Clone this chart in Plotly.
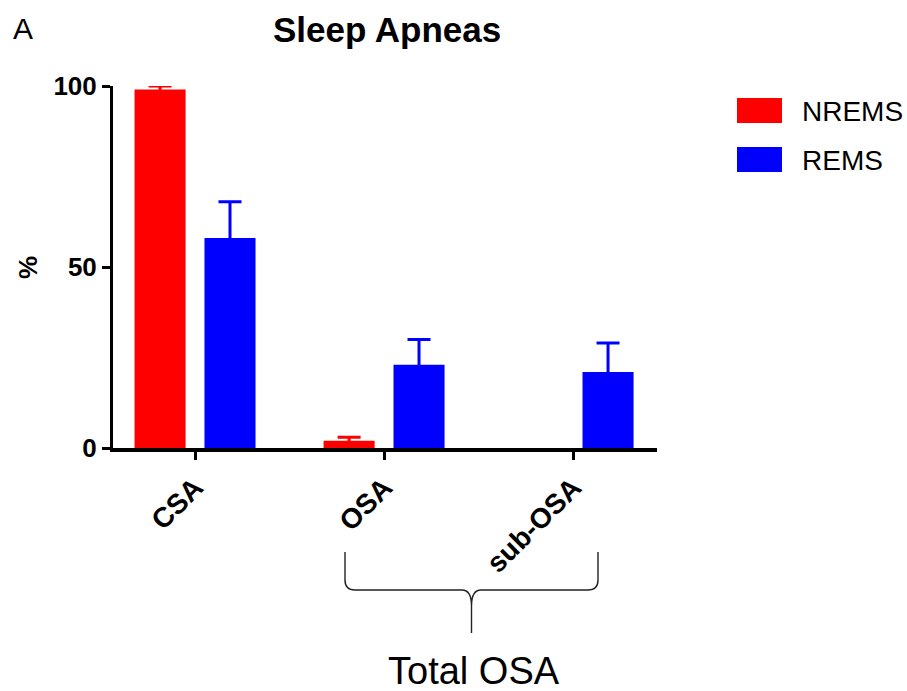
import plotly.graph_objects as go

# Sleep apnea categories and group means (%), with SEM
categories = ["CSA", "OSA", "sub-OSA"]
nrems_values = [99, 2, 0]
nrems_errors = [1, 1]  # no error bar for sub-OSA in NREMS
rems_values = [58, 23, 21]
rems_errors = [10, 7, 8]
y_ticks = [0, 50, 100]

RED = "#ff0000"
BLUE = "#0000ff"
FONT = "Arial, Liberation Sans, sans-serif"

W, H = 907, 691
L, R, T, B = 113, 657, 86, 448  # plot area in pixels


def px(xp):
    return (xp - L) / (R - L)


def py(yp):
    return (B - yp) / (B - T)


def bar_trace(name, values, errors, color):
    # the lower half of each error bar sits inside its own bar, same colour
    return go.Bar(
        name=name, x=categories, y=values,
        marker=dict(color=color, line=dict(width=0)),
        error_y=dict(type="data", symmetric=True, array=errors,
                     color=color, thickness=3, width=11.5),
        cliponaxis=False, showlegend=False,
    )


fig = go.Figure()
fig.add_trace(bar_trace("NREMS", nrems_values, nrems_errors, RED))
fig.add_trace(bar_trace("REMS", rems_values, rems_errors, BLUE))

annotations = [
    dict(text="A", x=px(11), y=py(28), xanchor="left", yanchor="middle",
         font=dict(family=FONT, size=30, color="black")),
    dict(text="<b>Sleep Apneas</b>", x=px(387), y=py(29), xanchor="center",
         yanchor="middle", font=dict(family=FONT, size=35, color="black")),
    dict(text="<b>%</b>", x=px(28), y=py(268), xanchor="center", yanchor="middle",
         textangle=-90, font=dict(family=FONT, size=26, color="black")),
    dict(text="Total OSA", x=px(474), y=py(671), xanchor="center", yanchor="middle",
         font=dict(family=FONT, size=38, color="black")),
    dict(text="NREMS", x=px(800), y=py(111), xanchor="left", yanchor="middle",
         font=dict(family=FONT, size=28, color="black")),
    dict(text="REMS", x=px(800), y=py(160), xanchor="left", yanchor="middle",
         font=dict(family=FONT, size=28, color="black")),
]
for a in annotations:
    a.update(xref="paper", yref="paper", showarrow=False)


def pt(xp, yp):
    return f"{px(xp):.5f},{py(yp):.5f}"


# curly brace grouping OSA and sub-OSA
brace = (
    f"M {pt(345, 552)} L {pt(345, 580)} Q {pt(345, 590)} {pt(355, 590)} "
    f"L {pt(462, 590)} Q {pt(471.5, 590)} {pt(471.5, 606)} L {pt(471.5, 633)} "
    f"M {pt(471.5, 606)} Q {pt(471.5, 590)} {pt(481, 590)} "
    f"L {pt(588, 590)} Q {pt(598, 590)} {pt(598, 580)} L {pt(598, 552)}"
)
shapes = [
    dict(type="path", path=brace, xref="paper", yref="paper",
         line=dict(color="#222222", width=1.4)),
    dict(type="rect", xref="paper", yref="paper", x0=px(737), x1=px(782),
         y0=py(123), y1=py(98), fillcolor=RED, line=dict(width=0)),
    dict(type="rect", xref="paper", yref="paper", x0=px(737), x1=px(782),
         y0=py(172), y1=py(147), fillcolor=BLUE, line=dict(width=0)),
]

fig.update_layout(
    width=W, height=H,
    margin=dict(l=L, r=W - R, t=T, b=H - B, pad=0),
    paper_bgcolor="white", plot_bgcolor="white",
    barmode="group", bargap=0.26, bargroupgap=0.27,
    annotations=annotations, shapes=shapes,
    showlegend=False,
    font=dict(family=FONT, color="black"),
)
fig.update_xaxes(
    range=[-0.434, 2.444], showline=True, linewidth=4, linecolor="black",
    ticks="outside", ticklen=8, tickwidth=3, tickcolor="black",
    tickangle=-45, showgrid=False, zeroline=False,
    tickfont=dict(family=FONT, size=28, color="black", weight="bold"),
)
fig.update_yaxes(
    range=[0, 100], tickvals=y_ticks, showline=True, linewidth=3,
    linecolor="black", ticks="outside", ticklen=8, tickwidth=3,
    tickcolor="black", showgrid=False, zeroline=False,
    tickfont=dict(family=FONT, size=26, color="black", weight="bold"),
)

fig.write_html("out.html")
